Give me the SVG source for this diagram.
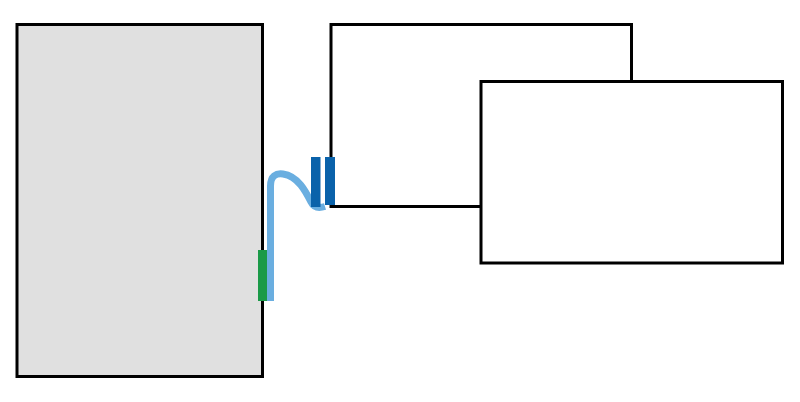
<svg xmlns="http://www.w3.org/2000/svg" width="800" height="402" viewBox="0 0 800 402">
<style>
.box{stroke:#000;stroke-width:3}
</style>
<rect width="800" height="402" fill="#fff"/>
<g id="device">
<rect class="box" x="17" y="24.5" width="245.5" height="352" fill="#e0e0e0"/>
</g>
<g id="panel-back">
<rect class="box" x="331" y="24.5" width="300.5" height="182" fill="#fff"/>
</g>
<g id="panel-front">
<rect class="box" x="481" y="81.5" width="301.5" height="181.5" fill="#fff"/>
</g>
<g id="connectors">
<rect x="258" y="250" width="10" height="51" fill="#1a9a48"/>
<path d="M270.5 301 L270.5 186 C270.5 176 276 173 283 174 C298 176 306 192 311 202 C314 208 320 208 325 206.5" fill="none" stroke="#6aaee0" stroke-width="7" stroke-linecap="butt"/>
<rect x="311" y="157" width="9.5" height="50" fill="#0a62aa"/>
<rect x="325" y="157" width="10" height="48" fill="#0a62aa"/>
</g>
</svg>
